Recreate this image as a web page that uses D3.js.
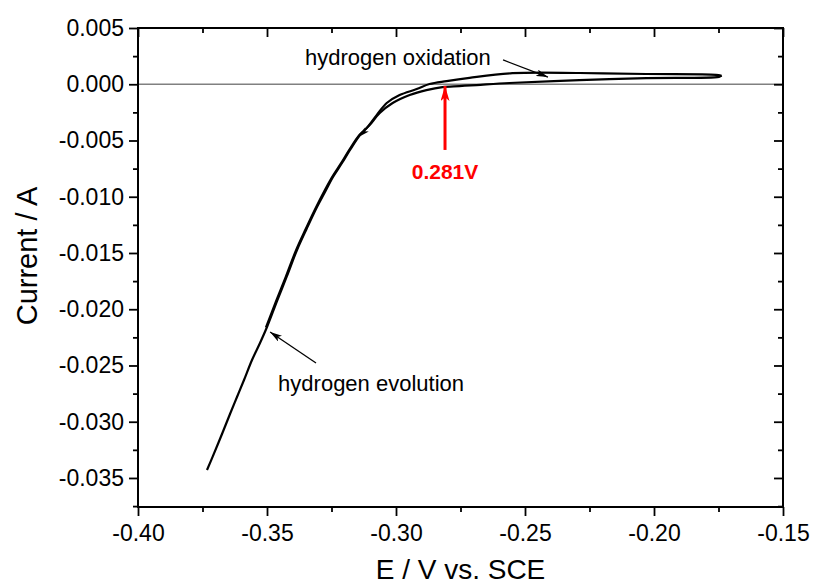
<!DOCTYPE html>
<html>
<head>
<meta charset="utf-8">
<script src="https://cdn.jsdelivr.net/npm/d3@7"></script>
<style>
  body { margin: 0; background: #fff; }
  text { font-family: "Liberation Sans", Arial, sans-serif; }
</style>
</head>
<body>
<script>
// Width and height
let w = 813;
let h = 586;
let margin = { top: 28, right: 30, bottom: 79, left: 138 };

// Forward scan (lower branch), E in V, current in A
let scanForward = [
  [-0.37326, -0.03429], [-0.37093, -0.03304], [-0.36744, -0.03109], [-0.36434, -0.02931],
  [-0.36163, -0.02780], [-0.35891, -0.02629], [-0.35581, -0.02451], [-0.35271, -0.02300],
  [-0.35000, -0.02158], [-0.34612, -0.01927], [-0.34225, -0.01704], [-0.33837, -0.01473],
  [-0.33450, -0.01278], [-0.33062, -0.01091], [-0.32752, -0.00958], [-0.32442, -0.00824],
  [-0.32093, -0.00700], [-0.31783, -0.00584], [-0.31395, -0.00451], [-0.3102, -0.00363],
  [-0.3063, -0.00256], [-0.3013, -0.00167], [-0.2947, -0.00096], [-0.2882, -0.00052],
  [-0.2820, -0.00025], [-0.2754, -0.00016], [-0.2688, -0.00007], [-0.2560, 0.00011],
  [-0.2289, 0.00037], [-0.2030, 0.00055], [-0.1748, 0.00066], [-0.1738, 0.00076]
];

// Reverse scan (upper branch)
let scanReverse = [
  [-0.1738, 0.00076], [-0.1760, 0.00084], [-0.2030, 0.00091], [-0.2289, 0.00100],
  [-0.2549, 0.00098], [-0.2715, 0.00057], [-0.2804, 0.00028], [-0.2870, 0.00002],
  [-0.2920, -0.00043], [-0.2986, -0.00096], [-0.3036, -0.00167], [-0.3075, -0.00274],
  [-0.3114, -0.00390], [-0.31435, -0.00455], [-0.31823, -0.00588], [-0.32133, -0.00704],
  [-0.32482, -0.00828], [-0.33102, -0.01095], [-0.33490, -0.01282], [-0.33877, -0.01477],
  [-0.34265, -0.01708], [-0.34652, -0.01931], [-0.35040, -0.02162]
];

// Tick values
let xMajor = [-0.40, -0.35, -0.30, -0.25, -0.20, -0.15];
let xMinor = [-0.375, -0.325, -0.275, -0.225, -0.175];
let yMajor = [0.005, 0, -0.005, -0.010, -0.015, -0.020, -0.025, -0.030, -0.035];
let yMinor = [0.0025, -0.0025, -0.0075, -0.0125, -0.0175, -0.0225, -0.0275, -0.0325, -0.0375];

let xScale = d3.scaleLinear()
  .domain([-0.40, -0.15])
  .range([margin.left, w - margin.right]);

let yScale = d3.scaleLinear()
  .domain([-0.03758, 0.005])
  .range([h - margin.bottom, margin.top]);

let svg = d3.select("body").append("svg").attr("width", w).attr("height", h);

// Arrow markers
let defs = svg.append("defs");
function addMarker(id, color, len, wid) {
  defs.append("marker")
    .attr("id", id)
    .attr("markerUnits", "userSpaceOnUse")
    .attr("viewBox", "0 0 " + len + " " + wid)
    .attr("refX", len)
    .attr("refY", wid / 2)
    .attr("markerWidth", len)
    .attr("markerHeight", wid)
    .attr("orient", "auto")
    .append("path")
    .attr("d", "M0,0 L" + len + "," + wid / 2 + " L0," + wid + " L" + len * 0.25 + "," + wid / 2 + " Z")
    .attr("fill", color);
}
addMarker("arrowBlack", "#000", 12, 7);
addMarker("arrowRed", "red", 15, 9);
addMarker("arrowSmall", "#000", 9, 6);

// zero line
svg.append("line")
  .attr("x1", xScale(-0.40)).attr("x2", xScale(-0.15))
  .attr("y1", yScale(0)).attr("y2", yScale(0))
  .attr("stroke", "#808080")
  .attr("stroke-width", 1.5);

// Create curves
let line = d3.line()
  .x((d) => xScale(d[0]))
  .y((d) => yScale(d[1]))
  .curve(d3.curveCatmullRom);

[scanForward, scanReverse].forEach((scan) => {
  svg.append("path")
    .attr("d", line(scan))
    .attr("fill", "none")
    .attr("stroke", "#000")
    .attr("stroke-width", 2.2)
    .attr("stroke-linejoin", "round");
});

// direction arrowhead on the curve
svg.append("line")
  .attr("x1", xScale(-0.3100)).attr("y1", yScale(-0.0037))
  .attr("x2", xScale(-0.3138)).attr("y2", yScale(-0.0046))
  .attr("stroke", "none")
  .attr("marker-end", "url(#arrowSmall)");

// axes
let fmt = (d) => d.toFixed(3);
let fmtX = (d) => d.toFixed(2);

function styleAxis(g) {
  g.selectAll(".domain").remove();
  g.selectAll("line").attr("stroke", "#000").attr("stroke-width", 1.8);
  g.selectAll("text")
    .attr("font-size", "23px")
    .attr("fill", "#000")
    .attr("font-family", "Liberation Sans, Arial, sans-serif");
}

let bottom = h - margin.bottom;
let right = w - margin.right;

// bottom axis
svg.append("g")
  .attr("transform", "translate(0," + bottom + ")")
  .call(d3.axisBottom(xScale).tickValues(xMajor).tickSize(9).tickPadding(9).tickFormat(fmtX))
  .call(styleAxis);
svg.append("g")
  .attr("transform", "translate(0," + bottom + ")")
  .call(d3.axisBottom(xScale).tickValues(xMinor).tickSize(5).tickFormat(""))
  .call(styleAxis);

// top axis (inward)
svg.append("g")
  .attr("transform", "translate(0," + margin.top + ")")
  .call(d3.axisBottom(xScale).tickValues(xMajor).tickSize(9).tickFormat(""))
  .call(styleAxis);
svg.append("g")
  .attr("transform", "translate(0," + margin.top + ")")
  .call(d3.axisBottom(xScale).tickValues(xMinor).tickSize(5).tickFormat(""))
  .call(styleAxis);

// left axis
svg.append("g")
  .attr("transform", "translate(" + margin.left + ",0)")
  .call(d3.axisLeft(yScale).tickValues(yMajor).tickSize(9).tickPadding(5).tickFormat(fmt))
  .call(styleAxis);
svg.append("g")
  .attr("transform", "translate(" + margin.left + ",0)")
  .call(d3.axisLeft(yScale).tickValues(yMinor).tickSize(5).tickFormat(""))
  .call(styleAxis);

// right axis (inward)
svg.append("g")
  .attr("transform", "translate(" + right + ",0)")
  .call(d3.axisLeft(yScale).tickValues(yMajor).tickSize(9).tickFormat(""))
  .call(styleAxis);
svg.append("g")
  .attr("transform", "translate(" + right + ",0)")
  .call(d3.axisLeft(yScale).tickValues(yMinor).tickSize(5).tickFormat(""))
  .call(styleAxis);

// frame
svg.append("rect")
  .attr("x", margin.left)
  .attr("y", margin.top)
  .attr("width", right - margin.left)
  .attr("height", bottom - margin.top)
  .attr("fill", "none")
  .attr("stroke", "#000")
  .attr("stroke-width", 2);

// axis titles
svg.append("text")
  .attr("x", (margin.left + right) / 2)
  .attr("y", 579)
  .attr("text-anchor", "middle")
  .attr("font-size", "28px")
  .text("E / V vs. SCE");

svg.append("text")
  .attr("transform", "translate(37,256) rotate(-90)")
  .attr("text-anchor", "middle")
  .attr("font-size", "29px")
  .text("Current / A");

// annotations
svg.append("text")
  .attr("x", xScale(-0.3353))
  .attr("y", yScale(0.00171))
  .attr("font-size", "22px")
  .text("hydrogen oxidation");

svg.append("line")
  .attr("x1", xScale(-0.2585)).attr("y1", yScale(0.00216))
  .attr("x2", xScale(-0.2411)).attr("y2", yScale(0.00064))
  .attr("stroke", "#000")
  .attr("stroke-width", 1.3)
  .attr("marker-end", "url(#arrowBlack)");

svg.append("text")
  .attr("x", xScale(-0.3457))
  .attr("y", yScale(-0.02727))
  .attr("font-size", "22px")
  .text("hydrogen evolution");

svg.append("line")
  .attr("x1", xScale(-0.3310)).attr("y1", yScale(-0.02478))
  .attr("x2", xScale(-0.3488)).attr("y2", yScale(-0.02202))
  .attr("stroke", "#000")
  .attr("stroke-width", 1.3)
  .attr("marker-end", "url(#arrowBlack)");

svg.append("line")
  .attr("x1", xScale(-0.281)).attr("y1", yScale(-0.00584))
  .attr("x2", xScale(-0.281)).attr("y2", yScale(-0.00016))
  .attr("stroke", "red")
  .attr("stroke-width", 3)
  .attr("marker-end", "url(#arrowRed)");

svg.append("text")
  .attr("x", xScale(-0.281))
  .attr("y", yScale(-0.00842))
  .attr("text-anchor", "middle")
  .attr("font-size", "21px")
  .attr("font-weight", "bold")
  .attr("fill", "red")
  .text("0.281V");
</script>
</body>
</html>
